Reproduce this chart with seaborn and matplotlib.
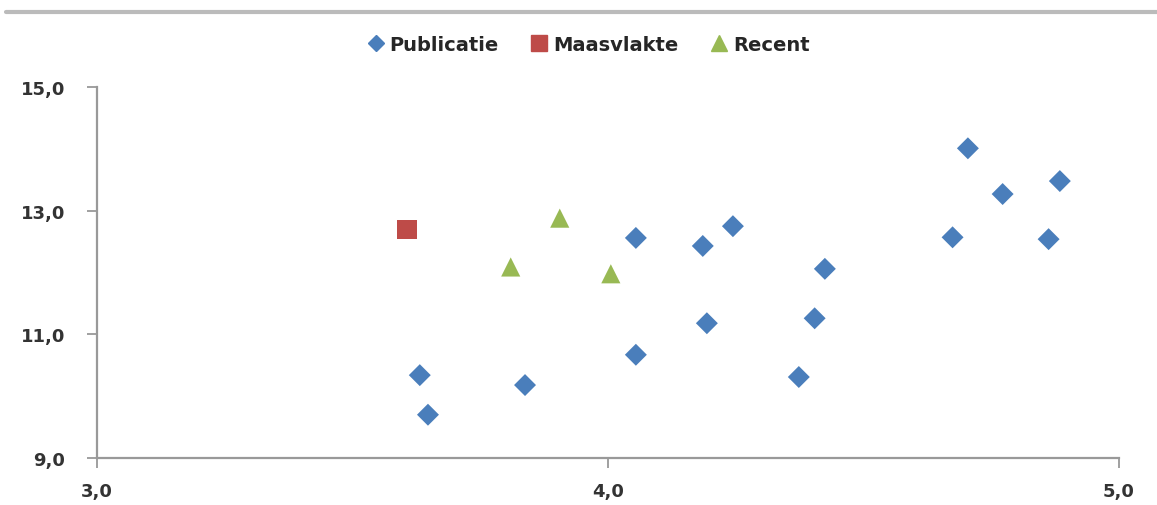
import pandas as pd
import matplotlib.pyplot as plt
import seaborn as sns
from matplotlib.lines import Line2D

# Values
pub_x = [3.632, 3.648, 3.838, 4.055, 4.055, 4.186, 4.194, 4.245, 4.374, 4.405,
         4.425, 4.675, 4.705, 4.773, 4.863, 4.885]
pub_y = [10.34, 9.70, 10.18, 12.56, 10.67, 12.43, 11.18, 12.75, 10.31, 11.26,
         12.06, 12.57, 14.01, 13.27, 12.54, 13.48]
maas_x = [3.607]
maas_y = [12.70]
recent_x = [3.810, 3.906, 4.006]
recent_y = [12.09, 12.88, 11.98]

series = ["Publicatie", "Maasvlakte", "Recent"]
colors = {"Publicatie": "#4A7EBB", "Maasvlakte": "#BE4B48", "Recent": "#98B954"}
markers = {"Publicatie": "D", "Maasvlakte": "s", "Recent": "^"}
sizes = {"Publicatie": 125, "Maasvlakte": 190, "Recent": 190}

df = pd.concat([
    pd.DataFrame({"x": pub_x, "y": pub_y, "reeks": "Publicatie"}),
    pd.DataFrame({"x": maas_x, "y": maas_y, "reeks": "Maasvlakte"}),
    pd.DataFrame({"x": recent_x, "y": recent_y, "reeks": "Recent"}),
])

sns.set_style("white")
plt.rcParams["font.family"] = ["DejaVu Sans"]

fig = plt.figure(figsize=(11.57, 5.06), dpi=100)
ax = fig.add_axes([0.0838, 0.0929, 0.883, 0.733])

for name in series:
    sub = df[df["reeks"] == name]
    sns.scatterplot(data=sub, x="x", y="y", color=colors[name], marker=markers[name],
                    s=sizes[name], edgecolor="none", ax=ax, legend=False, zorder=3)

ax.set_xlim(3.0, 5.0)
ax.set_ylim(9.0, 15.0)
ax.set_xticks([3.0, 4.0, 5.0])
ax.set_yticks([9.0, 11.0, 13.0, 15.0])
ax.set_xticklabels(["3,0", "4,0", "5,0"])
ax.set_yticklabels(["9,0", "11,0", "13,0", "15,0"])
ax.set_xlabel("")
ax.set_ylabel("")
for lab in ax.get_xticklabels() + ax.get_yticklabels():
    lab.set_fontweight("bold")
    lab.set_fontsize(13)
    lab.set_color("#333333")

sns.despine(ax=ax)
for side in ["left", "bottom"]:
    ax.spines[side].set_color("#999999")
    ax.spines[side].set_linewidth(1.6)
ax.tick_params(axis="y", direction="out", length=7, width=1.3, color="#999999",
               left=True, pad=16)
ax.tick_params(axis="x", direction="out", length=7, width=1.3, color="#999999",
               bottom=True, pad=10)

# legend at the top
handles = [Line2D([], [], linestyle="none", marker=markers[n], color=colors[n],
                  markersize=11 if n != "Publicatie" else 8) for n in series]
fig.legend(handles, series, loc="center", bbox_to_anchor=(0.508, 0.911), ncol=3,
           frameon=False, prop={"size": 14, "weight": "bold"}, handletextpad=0.2,
           columnspacing=1.6, handlelength=1.0)

# grey rule along the top of the figure
fig.add_artist(Line2D([0.005, 1.0], [0.974, 0.974], transform=fig.transFigure,
                      color="#BBBBBB", linewidth=3))

fig.savefig("out.png", dpi=100)
